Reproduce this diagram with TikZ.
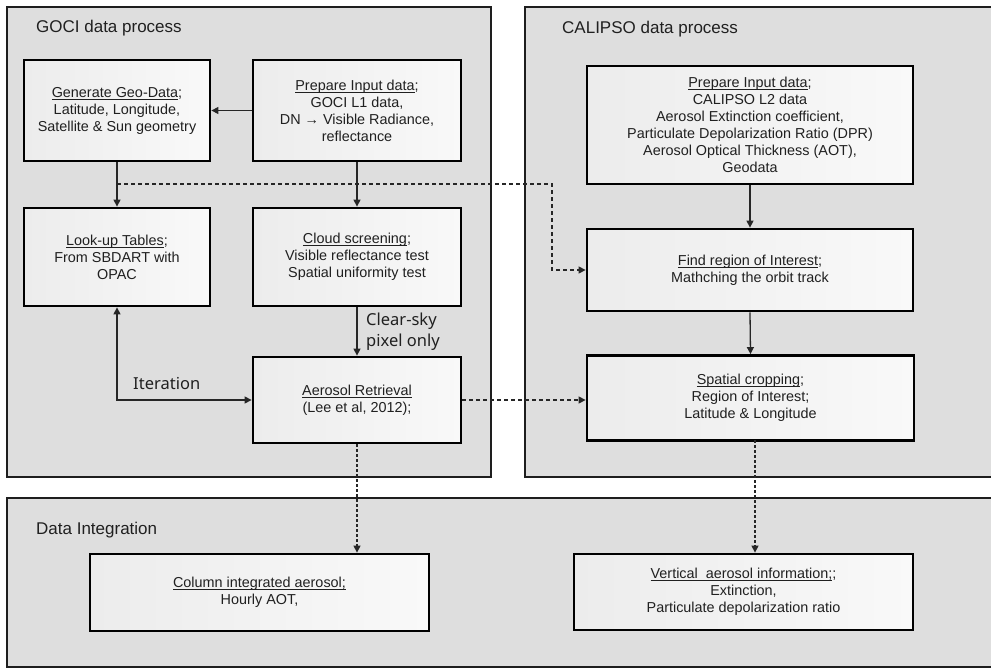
\documentclass[tikz,border=0pt]{standalone}
\usepackage{fontspec}
\setmainfont{Liberation Sans}
\newfontfamily\labfont{Noto Sans}
\usetikzlibrary{arrows.meta}
\definecolor{panelgray}{HTML}{DEDEDE}
\definecolor{boxl}{HTML}{ECECEC}
\definecolor{boxr}{HTML}{F9F9F9}
\definecolor{edge}{HTML}{1E1E1E}
\definecolor{ink}{HTML}{202020}
\newcommand\ulhead[1]{\leavevmode\vtop{\setbox0\hbox{#1}\dp0=0pt\box0\kern1.6pt\hrule height 0.7pt}}
\tikzset{
  panel/.style={draw=edge, line width=2pt, fill=panelgray},
  procbox/.style={draw=black, line width=2.8pt, left color=boxl, right color=boxr,
    rectangle, align=center, inner sep=0pt, text=ink, font=\fontsize{14.4}{17}\selectfont},
  ptitle/.style={anchor=west, font=\fontsize{17}{20}\selectfont, inner sep=0pt, text=ink},
  conn/.style={draw=black!85, line width=1.3pt, -{Triangle[length=7pt,width=7pt]}},
  dconn/.style={conn, dash pattern=on 4pt off 3pt},
  vconn/.style={conn, dash pattern=on 3pt off 2pt},
  lab/.style={font=\labfont\fontsize{16.5}{21}\selectfont, inner sep=0pt, align=left, text=ink}
}
\begin{document}
\begin{tikzpicture}[x=1pt,y=-1pt]
\useasboundingbox (0,0) rectangle (991,669);
\clip (0,0) rectangle (991,669);
\fill[white] (0,0) rectangle (991,669);
% panels
\draw[panel] (7,7) rectangle (491,477);
\draw[panel] (525,7) rectangle (1010,477);
\draw[panel] (7,498) rectangle (1010,667);
\node[ptitle] (t1) at (36,28) {GOCI data process};
\node[ptitle] (t2) at (562,29) {CALIPSO data process};
\node[ptitle] (t3) at (36,530) {Data Integration};
% GOCI boxes
\node[procbox, minimum width=186pt, minimum height=101pt] (geo) at (117,110.5)
  {\ulhead{Generate Geo-Data};\\Latitude, Longitude,\\Satellite \& Sun geometry};
\node[procbox, minimum width=208pt, minimum height=101pt] (prep) at (357,110.5)
  {\ulhead{Prepare Input data};\\GOCI L1 data,\\DN → Visible Radiance,\\reflectance};
\node[procbox, minimum width=186pt, minimum height=98pt] (lut) at (117,257)
  {\ulhead{Look-up Tables};\\From SBDART with\\OPAC};
\node[procbox, minimum width=208pt, minimum height=98pt] (cloud) at (357,257)
  {\ulhead{Cloud screening};\\Visible reflectance test\\Spatial uniformity test};
\node[procbox, minimum width=208pt, minimum height=86pt] (ret) at (357,400)
  {\ulhead{Aerosol Retrieval}\\(Lee et al, 2012);};
% CALIPSO boxes
\node[procbox, minimum width=326pt, minimum height=118pt] (cprep) at (750,125)
  {\ulhead{Prepare Input data};\\CALIPSO L2 data\\Aerosol Extinction coefficient,\\Particulate Depolarization Ratio (DPR)\\Aerosol Optical Thickness (AOT),\\Geodata};
\node[procbox, minimum width=326pt, minimum height=82pt] (roi) at (750,270)
  {\ulhead{Find region of Interest};\\Mathching the orbit track};
\node[procbox, minimum width=327pt, minimum height=85pt] (crop) at (750.5,398)
  {\ulhead{Spatial cropping};\\Region of Interest;\\Latitude \& Longitude};
% Integration boxes
\node[procbox, minimum width=339pt, minimum height=77pt] (col) at (259.5,592.5)
  {\ulhead{Column integrated aerosol;}\\Hourly AOT,};
\node[procbox, minimum width=339pt, minimum height=76pt] (vert) at (743.5,592)
  {\ulhead{Vertical\ \ aerosol information;};\\Extinction,\\Particulate depolarization ratio};
% labels
\node[lab, anchor=west] (clr) at (366,332) {Clear-sky\\pixel only};
\node[lab, anchor=west] (itr) at (133,383) {Iteration};
% connectors
\draw[conn] (prep.west) -- (geo.east);
\draw[conn] (geo.south) -- (lut.north);
\draw[conn] (prep.south) -- (cloud.north);
\draw[conn] (cloud.south) -- (ret.north);
\draw[conn, {Triangle[length=7pt,width=7pt]}-{Triangle[length=7pt,width=7pt]}] (lut.south) -- (lut.south |- ret.west) -- (ret.west);
\coordinate (dj) at (117,184);
\coordinate (dk) at (552,184);
\draw[dconn] (dj) -- (dk) -- (dk |- roi.west) -- (roi.west);
\draw[conn] (cprep.south) -- (roi.north);
\draw[conn] (roi.south) -- (crop.north);
\draw[dconn] (ret.east) -- (ret.east -| crop.west);
\draw[vconn] (ret.south) -- (ret.south |- col.north);
\coordinate (cs) at (755,440);
\draw[vconn] (cs) -- (cs |- vert.north);
\end{tikzpicture}
\end{document}
